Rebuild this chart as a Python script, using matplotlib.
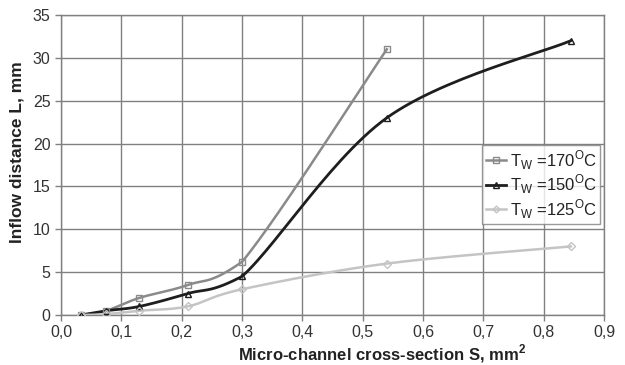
import numpy as np
import matplotlib
matplotlib.use("Agg")
import matplotlib.pyplot as plt
from matplotlib.ticker import FuncFormatter

plt.rcParams['font.family'] = ['Liberation Sans', 'DejaVu Sans']

# Data
s_170 = [0.033, 0.075, 0.13, 0.21, 0.30, 0.54]
l_170 = [0.0, 0.5, 2.0, 3.5, 6.2, 31.0]
s_150 = [0.033, 0.075, 0.13, 0.21, 0.30, 0.54, 0.845]
l_150 = [0.0, 0.5, 1.0, 2.5, 4.5, 23.0, 32.0]
s_125 = [0.033, 0.075, 0.13, 0.21, 0.30, 0.54, 0.845]
l_125 = [0.0, 0.1, 0.5, 1.0, 3.0, 6.0, 8.0]
labels = ['T$_\\mathregular{W}$ =170$^\\mathregular{O}$C',
          'T$_\\mathregular{W}$ =150$^\\mathregular{O}$C',
          'T$_\\mathregular{W}$ =125$^\\mathregular{O}$C']

W, H = 6.25, 3.65
fig = plt.figure(figsize=(W, H), dpi=100)
ax = fig.add_axes([61/625, 1-315/365, 543/625, 300/365])
ax.set_xlim(0, 0.9)
ax.set_ylim(0, 35)

sx = 543/0.9
sy = 300/35

def smooth(xs, ys, n=30):
    P = np.column_stack([np.array(xs)*sx, np.array(ys)*sy])
    P = np.vstack([P[0], P, P[-1]])
    out = []
    for i in range(1, len(P)-2):
        p0, p1, p2, p3 = P[i-1], P[i], P[i+1], P[i+2]
        c1 = p1 + (p2 - p0)/6
        c2 = p2 - (p3 - p1)/6
        lo, hi = min(p1[1], p2[1]), max(p1[1], p2[1])
        c1[1] = np.clip(c1[1], lo, hi)
        c2[1] = np.clip(c2[1], lo, hi)
        t = np.linspace(0, 1, n)[:, None]
        b = (1-t)**3*p1 + 3*(1-t)**2*t*c1 + 3*(1-t)*t**2*c2 + t**3*p2
        out.append(b if i == 1 else b[1:])
    B = np.vstack(out)
    return B[:, 0]/sx, B[:, 1]/sy

series = [(s_170, l_170, '#8a8a8a', 's', 1.8),
          (s_150, l_150, '#1e1e1e', '^', 2.0),
          (s_125, l_125, '#c4c4c4', 'D', 1.8)]

handles = []
for (xs, ys, c, m, lw), lab in zip(series, labels):
    cx, cy = smooth(xs, ys)
    ax.plot(cx, cy, color=c, lw=lw, zorder=3)
    ax.plot(xs, ys, linestyle='none', marker=m, ms=5 if m != 'D' else 4,
            mfc='none', mec=c, mew=1.0, zorder=4)
    h, = ax.plot([], [], color=c, lw=lw, marker=m, ms=4 if m != 'D' else 3.5,
                 mfc='none', mec=c, mew=1.0)
    handles.append(h)

ax.set_xticks(np.arange(0, 0.91, 0.1))
ax.set_yticks(np.arange(0, 36, 5))
ax.xaxis.set_major_formatter(FuncFormatter(lambda v, p: f"{v:.1f}".replace('.', ',')))
ax.grid(True, color='#808080', lw=1.0)
for sp in ax.spines.values():
    sp.set_color('#808080')
    sp.set_linewidth(1.0)
ax.tick_params(axis='both', colors='#808080', labelcolor='#333333',
               labelsize=11.5, length=4, direction='out', width=1.0)
ax.tick_params(axis='x', pad=3)

ax.set_xlabel('Micro-channel cross-section S, mm$^\\mathregular{2}$', fontsize=12,
              fontweight='bold', color='#222222')
ax.set_ylabel('Inflow distance L, mm', fontsize=12.5, fontweight='bold',
              color='#222222')
ax.xaxis.set_label_coords((382-61)/543, -0.09)
ax.yaxis.set_label_coords(-0.068, (315-152)/300)

leg = ax.legend(handles, labels, loc='upper right',
                bbox_to_anchor=((600-61)/543, (315-145)/300),
                fontsize=12, frameon=True, fancybox=False, handlelength=1.2,
                handletextpad=0.25, borderpad=0.2, labelspacing=0.05,
                borderaxespad=0.0)
leg.get_frame().set_edgecolor('#808080')
leg.get_frame().set_linewidth(1.0)
for t in leg.get_texts():
    t.set_color('#222222')

fig.savefig('out.png', dpi=100)
